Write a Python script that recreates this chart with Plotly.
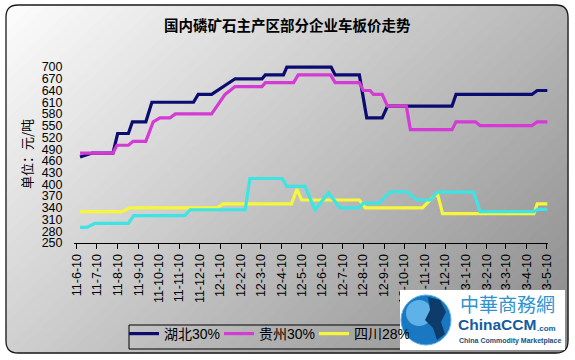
import plotly.graph_objects as go

# ---------------- data ----------------
tick_dates = ["2011-06-10", "2011-07-10", "2011-08-10", "2011-09-10", "2011-10-10", "2011-11-10",
              "2011-12-10", "2012-01-10", "2012-02-10", "2012-03-10", "2012-04-10", "2012-05-10",
              "2012-06-10", "2012-07-10", "2012-08-10", "2012-09-10", "2012-10-10", "2012-11-10",
              "2012-12-10", "2013-01-10", "2013-02-10", "2013-03-10", "2013-04-10", "2013-05-10"]
tick_labels = ["11-6-10", "11-7-10", "11-8-10", "11-9-10", "11-10-10", "11-11-10", "11-12-10",
               "12-1-10", "12-2-10", "12-3-10", "12-4-10", "12-5-10", "12-6-10", "12-7-10",
               "12-8-10", "12-9-10", "12-10-10", "12-11-10", "12-12-10", "13-1-10", "13-2-10",
               "13-3-10", "13-4-10", "13-5-10"]
y_ticks = [250, 280, 310, 340, 370, 400, 430, 460, 490, 520, 550, 580, 610, 640, 670, 700]

hubei_dates = ["2011-06-15", "2011-07-03", "2011-08-03", "2011-08-10", "2011-08-26", "2011-09-01",
               "2011-09-21", "2011-09-30", "2011-12-01", "2011-12-08", "2011-12-28", "2012-01-14",
               "2012-02-01", "2012-03-12", "2012-03-17", "2012-04-13", "2012-04-18", "2012-06-23",
               "2012-06-29", "2012-08-04", "2012-08-15", "2012-09-07", "2012-09-15", "2012-12-20",
               "2012-12-26", "2013-04-18", "2013-04-26", "2013-05-11"]
hubei_vals = [470, 480, 480, 530, 530, 560, 560, 610, 610, 630, 630, 650, 670, 670, 680, 680, 700, 700,
              680, 680, 570, 570, 600, 600, 630, 630, 640, 640]

guizhou_dates = ["2011-06-15", "2011-08-03", "2011-08-09", "2011-08-26", "2011-09-02", "2011-09-21",
                 "2011-10-02", "2011-10-12", "2011-10-27", "2011-11-04", "2011-12-28", "2012-01-17",
                 "2012-02-01", "2012-03-12", "2012-03-17", "2012-04-28", "2012-05-05", "2012-06-22",
                 "2012-06-29", "2012-08-04", "2012-08-10", "2012-08-20", "2012-08-25", "2012-09-07",
                 "2012-09-15", "2012-10-13", "2012-10-19", "2012-12-20", "2012-12-26", "2013-01-24",
                 "2013-01-31", "2013-04-18", "2013-04-26", "2013-05-11"]
guizhou_vals = [480, 480, 500, 500, 510, 510, 560, 570, 570, 580, 580, 630, 650, 650, 660, 660, 680, 680,
                660, 660, 640, 640, 630, 630, 600, 600, 540, 540, 560, 560, 550, 550, 560, 560]

sichuan_dates = ["2011-06-15", "2011-08-17", "2011-08-28", "2012-01-05", "2012-01-14", "2012-04-25",
                 "2012-05-03", "2012-05-10", "2012-08-04", "2012-08-13", "2012-11-06", "2012-11-28",
                 "2012-12-06", "2013-04-21", "2013-04-26", "2013-05-11"]
sichuan_vals = [330, 330, 340, 340, 350, 350, 388, 360, 360, 340, 340, 378, 325, 325, 350, 350]

cyan_dates = ["2011-06-15", "2011-06-25", "2011-07-07", "2011-08-26", "2011-09-03", "2011-11-18",
              "2011-11-26", "2012-02-16", "2012-02-23", "2012-04-11", "2012-04-18", "2012-05-15",
              "2012-05-30", "2012-06-19", "2012-07-06", "2012-08-03", "2012-08-10", "2012-09-02",
              "2012-09-19", "2012-10-14", "2012-10-29", "2012-11-18", "2012-11-28", "2013-01-21",
              "2013-01-31", "2013-04-21", "2013-04-26", "2013-05-11"]
cyan_vals = [290, 290, 300, 300, 320, 320, 335, 335, 415, 415, 395, 395, 335, 378, 340, 340, 352, 352,
             381, 381, 360, 360, 380, 380, 330, 330, 336, 336]

# ---------------- geometry helpers ----------------
W, H = 575, 360
def px(x):
    return x / W
def py(y):
    return 1 - y / H

BX0, BY0, BX1, BY1, R = 6, 5, 568, 353, 12
GA, GB = 72.0, 48.0   # darkening across width / height

def clip(poly, f, c, keep_ge):
    out = []
    n = len(poly)
    for i in range(n):
        p, q = poly[i], poly[(i + 1) % n]
        fp, fq = f(p) - c, f(q) - c
        ip = fp >= 0 if keep_ge else fp < 0
        iq = fq >= 0 if keep_ge else fq < 0
        if ip:
            out.append(p)
        if ip != iq:
            t = fp / (fp - fq)
            out.append((p[0] + t * (q[0] - p[0]), p[1] + t * (q[1] - p[1])))
    return out

def gfun(p):
    return GA * p[0] / W + GB * p[1] / H

shapes = []
rect = [(BX0, BY0), (BX1, BY0), (BX1, BY1), (BX0, BY1)]
gmax = gfun((BX1, BY1))
N = 70
for i in range(N):
    lo, hi = gmax * i / N, gmax * (i + 1) / N
    poly = clip(rect, gfun, lo, True)
    poly = clip(poly, gfun, hi, False) if i < N - 1 else poly
    if len(poly) < 3:
        continue
    v = int(round(255 - (lo + hi) / 2))
    col = f"rgb({v},{v},{v})"
    path = "M " + " L ".join(f"{px(x):.5f},{py(y):.5f}" for x, y in poly) + " Z"
    shapes.append(dict(type="path", path=path, xref="paper", yref="paper", fillcolor=col,
                       line=dict(color=col, width=1), layer="below"))
# white-out outside rounded corners
for cx, cy, sx, sy in [(BX0, BY0, 1, 1), (BX1, BY0, -1, 1), (BX0, BY1, 1, -1), (BX1, BY1, -1, -1)]:
    path = (f"M {px(cx - sx)},{py(cy - sy)} L {px(cx + sx * R)},{py(cy - sy)} L {px(cx + sx * R)},{py(cy)} "
            f"Q {px(cx)},{py(cy)} {px(cx)},{py(cy + sy * R)} L {px(cx - sx)},{py(cy + sy * R)} Z")
    shapes.append(dict(type="path", path=path, xref="paper", yref="paper", fillcolor="white",
                       line=dict(width=0), layer="below"))
# rounded frame
frame = (f"M {px(BX0+R)},{py(BY0)} L {px(BX1-R)},{py(BY0)} "
         f"Q {px(BX1)},{py(BY0)} {px(BX1)},{py(BY0+R)} L {px(BX1)},{py(BY1-R)} "
         f"Q {px(BX1)},{py(BY1)} {px(BX1-R)},{py(BY1)} L {px(BX0+R)},{py(BY1)} "
         f"Q {px(BX0)},{py(BY1)} {px(BX0)},{py(BY1-R)} L {px(BX0)},{py(BY0+R)} "
         f"Q {px(BX0)},{py(BY0)} {px(BX0+R)},{py(BY0)} Z")
shapes.append(dict(type="path", path=frame, xref="paper", yref="paper",
                   line=dict(color="#1a1a1a", width=1.3), layer="above"))
# legend frame (runs on under the logo)
shapes.append(dict(type="rect", xref="paper", yref="paper", x0=px(129), x1=px(430), y0=py(349), y1=py(325),
                   line=dict(color="black", width=1), layer="above"))
# logo box
shapes.append(dict(type="rect", xref="paper", yref="paper", x0=px(400), x1=px(565), y0=py(350), y1=py(290),
                   fillcolor="white", line=dict(width=0), layer="above"))
shapes.append(dict(type="circle", xref="paper", yref="paper", x0=px(401), x1=px(451), y0=py(345), y1=py(295),
                   fillcolor="#1a78c2", line=dict(color="#5fb0e8", width=1), layer="above"))
shapes.append(dict(type="circle", xref="paper", yref="paper", x0=px(406), x1=px(432), y0=py(326), y1=py(300),
                   fillcolor="#6fc0f0", line=dict(width=0), opacity=0.8, layer="above"))
shapes.append(dict(type="path", xref="paper", yref="paper",
                   path=(f"M {px(428)},{py(297)} L {px(440)},{py(300)} L {px(446)},{py(312)} L {px(441)},{py(322)} "
                         f"L {px(445)},{py(334)} L {px(437)},{py(340)} L {px(433)},{py(328)} L {px(425)},{py(320)} "
                         f"L {px(430)},{py(310)} Z"),
                   fillcolor="#0d3c6a", line=dict(width=0), layer="above"))

# ---------------- figure ----------------
fig = go.Figure()
series = [
    ("湖北30%", hubei_dates, hubei_vals, "#0b0b70", True),
    ("贵州30%", guizhou_dates, guizhou_vals, "#d43ad4", True),
    ("四川28%", sichuan_dates, sichuan_vals, "#f6f63c", True),
    ("云南30%", cyan_dates, cyan_vals, "#3ee4e4", False),
]
for name, xs, ys, col, show in series:
    fig.add_trace(go.Scatter(x=xs, y=ys, name=name, mode="lines", showlegend=show,
                             line=dict(color=col, width=3.2)))

num_font = dict(family="Liberation Sans, Arial, sans-serif", size=12.5, color="black")
cjk = "Noto Sans CJK SC, sans-serif"

fig.update_xaxes(
    type="date", range=["2011-06-06", "2013-05-12"],
    domain=[px(74), px(548)],
    tickmode="array", tickvals=tick_dates, ticktext=tick_labels, tickangle=-90,
    showline=True, linecolor="black", linewidth=1,
    ticks="outside", ticklen=5, tickcolor="black", tickwidth=1,
    showgrid=False, zeroline=False, tickfont=num_font, automargin=False,
)
fig.update_yaxes(
    range=[250, 706], domain=[py(243), py(64.7)],
    tickmode="array", tickvals=y_ticks,
    showline=False, showgrid=False, zeroline=False,
    ticks="outside", ticklen=8, tickcolor="rgba(0,0,0,0)", tickfont=num_font, automargin=False,
)

annotations = [
    dict(text="<b>国内磷矿石主产区部分企业车板价走势</b>", xref="paper", yref="paper",
         x=px(287), y=py(25), xanchor="center", yanchor="middle", showarrow=False,
         font=dict(family=cjk, size=14.5, color="black")),
    dict(text="单位：元/吨", xref="paper", yref="paper", x=px(26), y=py(154), textangle=-90,
         xanchor="center", yanchor="middle", showarrow=False,
         font=dict(family=cjk, size=13, color="black")),
    dict(text="中華商務網", xref="paper", yref="paper", x=px(507), y=py(303), xanchor="center",
         yanchor="middle", showarrow=False, font=dict(family=cjk, size=19, color="#2f93d0")),
    dict(text="<b>ChinaCCM</b>", xref="paper", yref="paper", x=px(456), y=py(324), xanchor="left",
         yanchor="middle", showarrow=False,
         font=dict(family="Liberation Sans, sans-serif", size=15.5, color="#145c9e")),
    dict(text="<b>.com</b>", xref="paper", yref="paper", x=px(535), y=py(328), xanchor="left",
         yanchor="middle", showarrow=False,
         font=dict(family="Liberation Sans, sans-serif", size=8, color="#145c9e")),
    dict(text="<b>China Commodity Marketplace</b>", xref="paper", yref="paper", x=px(510), y=py(341),
         xanchor="center", yanchor="middle", showarrow=False,
         font=dict(family="Liberation Sans, sans-serif", size=7, color="#1a4f80")),
]

fig.update_layout(
    width=W, height=H, autosize=False,
    margin=dict(l=0, r=0, t=0, b=0, pad=0),
    paper_bgcolor="white", plot_bgcolor="rgba(0,0,0,0)",
    shapes=shapes, annotations=annotations,
    legend=dict(orientation="h", x=px(124), y=py(334), xanchor="left", yanchor="middle",
                bgcolor="rgba(0,0,0,0)", borderwidth=0,
                font=dict(family="Liberation Sans, Noto Sans CJK SC, sans-serif", size=14, color="black"),
                itemwidth=30, entrywidth=50, entrywidthmode="pixels", tracegroupgap=0),
    showlegend=True,
)

fig.write_html("out.html", config={"displayModeBar": False},
               post_script="document.body.style.margin='0';")
